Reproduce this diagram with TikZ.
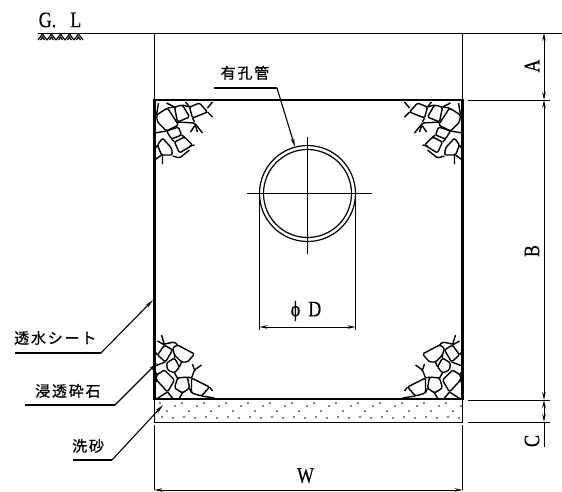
\documentclass[tikz,border=0pt]{standalone}
\usepackage{fontspec}
\newfontfamily\dimfont[FakeStretch=0.82,FakeBold=0.4]{Liberation Serif}
\newfontfamily\jpfont[LetterSpace=12,FakeBold=0.7]{Noto Sans CJK JP}
\usetikzlibrary{arrows.meta}

\tikzset{
    thinline/.style={line width=1pt},
    wall/.style={line width=2.6pt},
    rock/.style={line width=1.4pt, line join=round, rounded corners=1.5pt},
    dimline/.style={line width=0.9pt, {Stealth[length=8pt,width=3.5pt]}-{Stealth[length=8pt,width=3.5pt]}},
    leader/.style={line width=1.1pt},
    leaderarrow/.style={line width=1.1pt, -{Stealth[length=9pt,width=3.5pt]}},
    jplabel/.style={font=\jpfont\fontsize{15}{15}\selectfont, inner sep=0pt},
    dimlabel/.style={font=\dimfont\fontsize{22}{22}\selectfont, inner sep=0pt},
    rockstop/.pic={
        \draw[rock] (2,15) -- (13,8) -- (24,25) -- (12,31) -- (3,22) -- cycle;
        \draw[rock] (20,7) -- (28,5) -- (35,17) -- (23,22) -- cycle;
        \draw[rock] (35,7) -- (45,3) -- (53,12) -- (38,18) -- cycle;
        \draw[rock] (12,31) -- (24,27) -- (27,35) -- (17,39) -- cycle;
        \draw[rock] (3,45) -- (8,38) -- (17,48) -- (18,55) -- (7,55) -- cycle;
        \draw[rock] (20,42) -- (30,37) -- (38,45) -- (25,53) -- cycle;
        \draw[rock] (53,12) -- (58,17) (53,8) -- (58,2) (38,18) -- (40,22);
        \draw[rock] (23,22) -- (40,23) -- (48,33) (40,23) -- (43,32) (40,26) -- (36,32);
        \draw[rock] (8,55) -- (8,64) (18,56) -- (25,58) -- (35,50) (35,46) -- (40,45);
        \draw[rock] (0,33) -- (12,31) (17,39) -- (20,42) (27,35) -- (30,37);
        \draw[rock] (2,15) -- (4,3) (0,10) -- (2,15) (12,3) -- (20,7) (35,7) -- (31,2);
        \draw[rock] (0,50) -- (3,45) (7,55) -- (0,60) (13,8) -- (20,7) (28,5) -- (35,7);
    },
    rocksbot/.pic={
        \draw[rock] (3,44) -- (10,54) -- (18,49) -- (11,37) -- cycle;
        \draw[rock] (18,51) -- (23,54) -- (40,45) -- (33,37) -- (27,37) -- (20,44) -- cycle;
        \draw[rock] (12,36) -- (20,41) -- (25,32) -- (20,26) -- (13,29) -- cycle;
        \draw[rock] (2,24) -- (10,29) -- (20,19) -- (13,7) -- (2,19) -- cycle;
        \draw[rock] (23,21) -- (33,22) -- (35,11) -- (28,6) -- (20,11) -- cycle;
        \draw[rock] (37,21) -- (55,12) -- (47,3) -- (37,6) -- cycle;
        \draw[rock] (7,64) -- (10,54) (3,58) -- (10,54) (10,55) -- (20,57) -- (23,54);
        \draw[rock] (37,21) -- (40,29) -- (47,34) (40,29) -- (38,35);
        \draw[rock] (47,3) -- (60,1) (55,12) -- (58,8);
        \draw[rock] (13,7) -- (2,0) (13,7) -- (18,1) (28,6) -- (25,1) (35,11) -- (37,6);
        \draw[rock] (0,33) -- (11,37) (3,24) -- (0,28) (20,26) -- (23,21) (25,32) -- (27,37);
        \draw[rock] (0,14) -- (2,19) (20,41) -- (20,44) (33,22) -- (37,21) (3,44) -- (0,48);
    }
}

\begin{document}
\begin{tikzpicture}[x=1pt,y=-1pt]
\useasboundingbox (0,0) rectangle (562,491);

% ground line
\coordinate (gl1) at (38,33);
\coordinate (gl2) at (562,33);
\draw[thinline] (gl1) -- (gl2);
\node[dimlabel, anchor=center] (gltext) at (60,20) {G.\hspace{14pt}L};
\foreach \x in {38,47,56,65,74} {
    \draw[line width=1.2pt] (\x,40) -- (\x+4.5,34) -- (\x+9,40);
    \draw[line width=1.2pt] (\x+2.5,40) -- (\x+4.5,37) -- (\x+6.5,40);
}

% trench
\coordinate (tl) at (154.5,100);
\coordinate (tr) at (462.5,100);
\coordinate (bl) at (154.5,399);
\coordinate (br) at (462.5,399);
\coordinate (sl) at (154.5,422);
\coordinate (sr) at (462.5,422);
\draw[thinline] (154.5,33) -- (tl);
\draw[thinline] (462.5,33) -- (tr);
\draw[wall, line cap=square] (tl) -- (tr) -- (br) -- (bl) -- cycle;
\draw[thinline] (bl) -- (sl) -- (sr) -- (br);

% sand
\foreach \x in {160,182,...,450} {
    \fill (\x,403) circle (0.9pt);
    \fill (\x+7,411) circle (0.8pt);
    \fill (\x+15,406) circle (0.8pt);
    \fill (\x+2,417) circle (0.9pt);
    \fill (\x+13,418) circle (0.8pt);
}

% stones
\pic at (tl) {rockstop};
\pic[xscale=-1] at (tr) {rockstop};
\pic[yscale=-1] at (bl) {rocksbot};
\pic[xscale=-1,yscale=-1] at (br) {rocksbot};

% pipe
\coordinate (pc) at (307.5,193.5);
\draw[line width=1.2pt] (pc) circle (48);
\draw[line width=1.2pt] (pc) circle (44);
\draw[thinline] (247,193.5) -- (372,193.5);
\draw[thinline] (307.5,137) -- (307.5,254);

% pipe diameter
\coordinate (dl0) at (259.5,196);
\coordinate (dr0) at (355.5,199);
\coordinate (dl) at (259.5,327);
\coordinate (dr) at (355.5,327);
\draw[thinline] (dl0) -- (259.5,330);
\draw[thinline] (dr0) -- (355.5,330);
\draw[dimline] (dl) -- (dr);
\node[dimlabel, anchor=center] (dtext) at (306,311) {ϕ\hspace{8pt}D};

% width
\coordinate (wl) at (154.5,490);
\coordinate (wr) at (462.5,490);
\draw[thinline] (154.5,425) -- (wl);
\draw[thinline] (462.5,425) -- (wr);
\draw[dimline] (wl) -- (wr);
\node[dimlabel, anchor=center] (wtext) at (305.5,475.5) {W};

% depth chain
\coordinate (da) at (544,33);
\coordinate (db) at (544,100);
\coordinate (dc) at (544,400);
\coordinate (dd) at (544,422);
\draw[thinline] (468,100) -- (550,100);
\draw[thinline] (468,400) -- (550,400);
\draw[thinline] (468,422) -- (550,422);
\draw[dimline] (da) -- (db);
\draw[dimline] (db) -- (dc);
\draw[thinline] (dd) -- (544,447);
\draw[dimline] (dc) -- (dd);
\node[dimlabel, rotate=90, anchor=center] (atext) at (532,66) {A};
\node[dimlabel, rotate=90, anchor=center] (btext) at (532,251) {B};
\node[dimlabel, rotate=90, anchor=center] (ctext) at (532,441) {C};

% labels
\node[jplabel, anchor=south] (pipetext) at (245,80) {有孔管};
\coordinate (pipeu) at (214,88);
\coordinate (pipek) at (277,88);
\coordinate (pipea) at (295,147);
\draw[leader] (pipeu) -- (pipek);
\draw[leaderarrow] (pipek) -- (pipea);

\node[jplabel, anchor=south west] (sheettext) at (14,345) {透水シート};
\coordinate (sheetu) at (15,353);
\coordinate (sheetk) at (101,353);
\coordinate (sheeta) at (153,300);
\draw[leader] (sheetu) -- (sheetk);
\draw[leaderarrow] (sheetk) -- (sheeta);

\node[jplabel, anchor=south west] (stonetext) at (35,398) {浸透砕石};
\coordinate (stoneu) at (25,405);
\coordinate (stonek) at (115,405);
\coordinate (stonea) at (157,363);
\draw[leader] (stoneu) -- (stonek);
\draw[leaderarrow] (stonek) -- (stonea);

\node[jplabel, anchor=south west] (sandtext) at (72,453) {洗砂};
\coordinate (sandu) at (73,460);
\coordinate (sandk) at (112,460);
\coordinate (sanda) at (163,405);
\draw[leader] (sandu) -- (sandk);
\draw[leaderarrow] (sandk) -- (sanda);

\end{tikzpicture}
\end{document}
